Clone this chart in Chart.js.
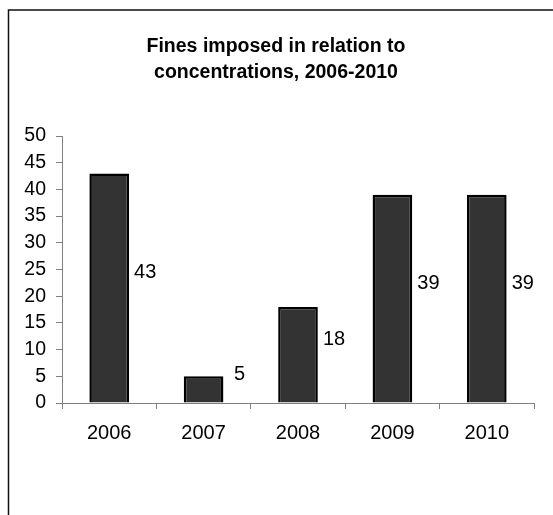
<!DOCTYPE html>
<html>
<head>
<meta charset="utf-8">
<script src="https://cdn.jsdelivr.net/npm/chart.js@4/dist/chart.umd.min.js"></script>
<style>
  html, body { margin: 0; padding: 0; background: #fff; }
  #chart { display: block; }
</style>
</head>
<body>
<canvas id="chart" width="553" height="515"></canvas>
<script>
var years = ['2006', '2007', '2008', '2009', '2010'];
var fines = [43, 5, 18, 39, 39];
var titleLines = ['Fines imposed in relation to', 'concentrations, 2006-2010'];
var yMin = 0, yMax = 50, yStep = 5;

var FONT = '"Liberation Sans", Arial, sans-serif';

// frame, title and the value next to each bar
var decorations = {
    id: 'decorations',
    beforeDraw: function(chart) {
        var ctx = chart.ctx;
        ctx.save();
        ctx.fillStyle = '#fff';
        ctx.fillRect(0, 0, chart.width, chart.height);
        ctx.strokeStyle = '#111';
        ctx.lineWidth = 1.5;
        ctx.beginPath();
        ctx.moveTo(8.5, chart.height);
        ctx.lineTo(8.5, 10);
        ctx.lineTo(chart.width, 10);
        ctx.stroke();

        ctx.fillStyle = '#000';
        ctx.font = 'bold 19.5px ' + FONT;
        ctx.textAlign = 'center';
        ctx.textBaseline = 'middle';
        ctx.fillText(titleLines[0], 276, 47);
        ctx.fillText(titleLines[1], 276, 73);
        ctx.restore();
    },
    afterDatasetsDraw: function(chart) {
        var ctx = chart.ctx;
        var meta = chart.getDatasetMeta(0);
        ctx.save();
        ctx.fillStyle = '#000';
        ctx.font = '20px ' + FONT;
        ctx.textAlign = 'center';
        ctx.textBaseline = 'middle';
        meta.data.forEach(function(bar, i) {
            var y = (bar.y + bar.base) / 2 - 15;
            ctx.fillText(String(fines[i]), bar.x + 36, y);
        });
        ctx.restore();
    }
};

var ctx = document.getElementById('chart');

var myChart = new Chart(ctx, {
    type: 'bar',
    data: {
        labels: years,
        datasets: [
            {
                data: fines,
                backgroundColor: '#333333',
                borderColor: '#000000',
                borderWidth: 2.5,
                categoryPercentage: 1,
                barPercentage: 0.42
            }
        ]
    },
    options: {
        responsive: false,
        animation: false,
        layout: {
            padding: { left: 0, top: 136, right: 19, bottom: 0 }
        },
        plugins: {
            legend: { display: false },
            title: { display: false },
            tooltip: { enabled: false }
        },
        scales: {
            x: {
                afterFit: function(scale) { scale.height = 112; },
                grid: {
                    display: true,
                    offset: true,
                    drawOnChartArea: false,
                    drawTicks: true,
                    tickLength: 6,
                    color: '#808080'
                },
                border: { display: true, color: '#808080', width: 1 },
                ticks: {
                    color: '#000',
                    font: { family: FONT, size: 20 },
                    padding: 12
                }
            },
            y: {
                min: yMin,
                max: yMax,
                afterFit: function(scale) { scale.width = 62; },
                grid: {
                    display: true,
                    drawOnChartArea: false,
                    drawTicks: true,
                    tickLength: 6,
                    color: '#808080'
                },
                border: { display: true, color: '#808080', width: 1 },
                ticks: {
                    stepSize: yStep,
                    autoSkip: false,
                    color: '#000',
                    font: { family: FONT, size: 19.5, lineHeight: 1 },
                    padding: 10
                }
            }
        }
    },
    plugins: [decorations]
});
</script>
</body>
</html>
